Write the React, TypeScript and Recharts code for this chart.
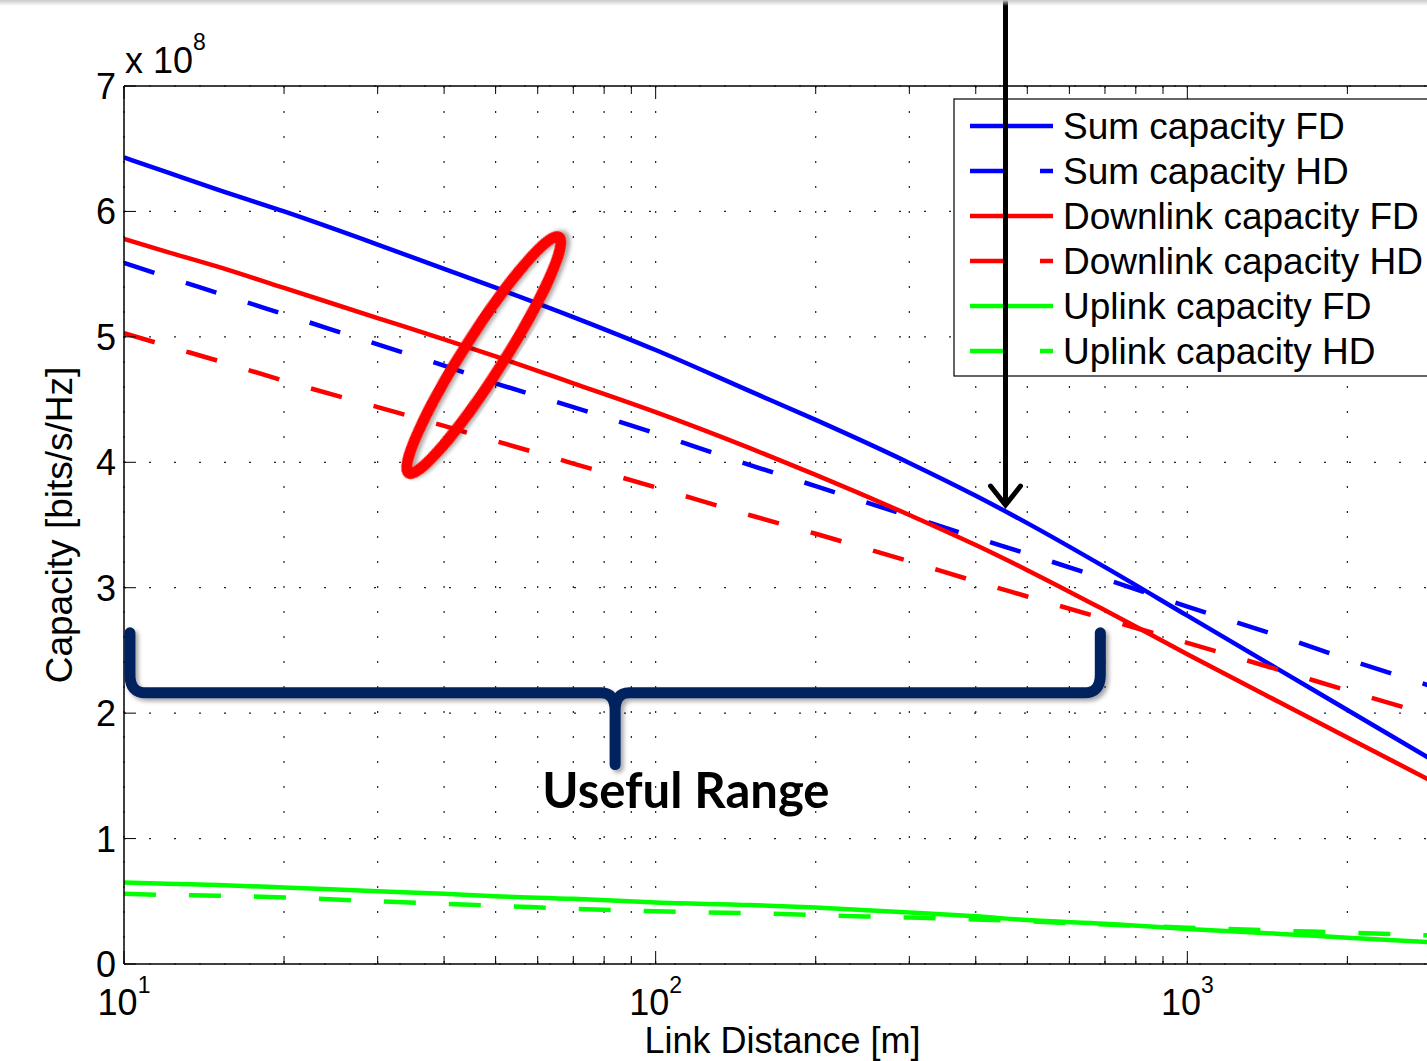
import {
  CartesianGrid,
  Customized,
  Line,
  LineChart,
  ReferenceArea,
  ReferenceDot,
  ReferenceLine,
  XAxis,
  YAxis,
} from "recharts";

const FONT = "'Liberation Sans', Arial, Helvetica, sans-serif";

// link distance [m]
const distances = [10, 12, 15, 20, 30, 40, 50, 70, 100, 150, 200, 300, 400, 500, 700, 1000, 1500, 2000, 3000];

// capacities, in units of 1e8 bits/s/Hz
const sumFD = [6.43, 6.315, 6.174, 6.0, 5.736, 5.542, 5.392, 5.158, 4.895, 4.569, 4.338, 3.995, 3.733, 3.515, 3.164, 2.777, 2.337, 2.025, 1.585];
const sumHD = [5.59, 5.48, 5.35, 5.18, 4.94, 4.77, 4.63, 4.44, 4.23, 3.98, 3.81, 3.57, 3.4, 3.27, 3.07, 2.85, 2.61, 2.43, 2.19];
const downFD = [5.78, 5.68, 5.56, 5.39, 5.15, 4.98, 4.845, 4.63, 4.4, 4.115, 3.9, 3.58, 3.34, 3.14, 2.82, 2.47, 2.08, 1.805, 1.42];
const downHD = [5.03, 4.93, 4.81, 4.65, 4.44, 4.29, 4.17, 3.99, 3.8, 3.58, 3.43, 3.21, 3.05, 2.93, 2.75, 2.56, 2.34, 2.18, 1.96];
const upFD = [0.65, 0.64, 0.63, 0.61, 0.58, 0.56, 0.54, 0.52, 0.49, 0.47, 0.45, 0.41, 0.38, 0.35, 0.32, 0.28, 0.24, 0.21, 0.17];
const upHD = [0.56, 0.55, 0.545, 0.53, 0.5, 0.48, 0.465, 0.44, 0.42, 0.405, 0.39, 0.37, 0.355, 0.34, 0.315, 0.29, 0.265, 0.25, 0.225];

const xTicks = [10, 20, 30, 40, 50, 60, 70, 80, 90, 100, 200, 300, 400, 500, 600, 700, 800, 900, 1000, 2000, 3000];
const yTicks = [0, 1, 2, 3, 4, 5, 6, 7];

const series = [
  { key: "sumFD", name: "Sum capacity FD", color: "#0000ff", dashed: false },
  { key: "sumHD", name: "Sum capacity HD", color: "#0000ff", dashed: true },
  { key: "downFD", name: "Downlink capacity FD", color: "#ff0000", dashed: false },
  { key: "downHD", name: "Downlink capacity HD", color: "#ff0000", dashed: true },
  { key: "upFD", name: "Uplink capacity FD", color: "#00ff00", dashed: false },
  { key: "upHD", name: "Uplink capacity HD", color: "#00ff00", dashed: true },
];

const data = distances.map((d, i) => ({
  d,
  sumFD: sumFD[i],
  sumHD: sumHD[i],
  downFD: downFD[i],
  downHD: downHD[i],
  upFD: upFD[i],
  upHD: upHD[i],
}));

const PLOT_H = 878;
const DASH = "32 33";
const NAVY = "#03205f";

function XTick({ x, y, payload }: any) {
  const exp = Math.log10(payload.value);
  const major = Math.abs(exp - Math.round(exp)) < 1e-6;
  const len = major ? 13 : 8;
  const top = y - PLOT_H;
  return (
    <g>
      <line x1={x} y1={y} x2={x} y2={y - len} stroke="#000" />
      <line x1={x} y1={top} x2={x} y2={top + len} stroke="#000" />
      {major && (
        <text x={x} y={y + 51} textAnchor="middle" fontSize={36} fontFamily={FONT} fill="#000">
          10
          <tspan dy={-22} fontSize={23}>
            {Math.round(exp)}
          </tspan>
        </text>
      )}
    </g>
  );
}

function YTick({ x, y, payload }: any) {
  return (
    <g>
      <line x1={x} y1={y} x2={x + 12} y2={y} stroke="#000" />
      <text x={x - 8} y={y + 13} textAnchor="end" fontSize={36} fontFamily={FONT} fill="#000">
        {payload.value}
      </text>
      {payload.value === 7 && (
        <text x={x + 1} y={y - 13} fontSize={36} fontFamily={FONT} fill="#000">
          x 10
          <tspan dy={-23} fontSize={23}>
            8
          </tspan>
        </text>
      )}
    </g>
  );
}

function YLabel({ viewBox }: any) {
  const x = viewBox.x + 72;
  const y = viewBox.y + viewBox.height / 2;
  return (
    <text x={x} y={y} transform={`rotate(-90 ${x} ${y})`} textAnchor="middle" fontSize={37} fontFamily={FONT} fill="#000">
      Capacity [bits/s/Hz]
    </text>
  );
}

function XLabel({ viewBox }: any) {
  return (
    <text
      x={viewBox.x + viewBox.width / 2}
      y={viewBox.y + 89}
      textAnchor="middle"
      fontSize={36}
      fontFamily={FONT}
      fill="#000"
    >
      Link Distance [m]
    </text>
  );
}

function LegendBox() {
  const left = 954;
  const top = 99;
  return (
    <g>
      <rect x={left} y={top} width={520} height={277} fill="#fff" stroke="#000" strokeWidth={1.2} />
      {series.map((s, i) => {
        const cy = top + 27 + i * 45;
        return (
          <g key={s.key}>
            <line
              x1={left + 16}
              x2={left + 99}
              y1={cy}
              y2={cy}
              stroke={s.color}
              strokeWidth={4.5}
              strokeDasharray={s.dashed ? "33 37" : undefined}
            />
            <text x={left + 109} y={cy + 13} fontSize={37} fontFamily={FONT} fill="#000">
              {s.name}
            </text>
          </g>
        );
      })}
    </g>
  );
}

function Shadow({ id }: { id: string }) {
  return (
    <defs>
      <filter id={id} x="-20%" y="-20%" width="140%" height="140%">
        <feDropShadow dx={3} dy={3} stdDeviation={2} floodColor="#000" floodOpacity={0.35} />
      </filter>
    </defs>
  );
}

function EllipseMark({ cx, cy }: any) {
  return (
    <g>
      <Shadow id="ellShadow" />
      <ellipse
        cx={cx}
        cy={cy}
        rx={140}
        ry={20}
        transform={`rotate(-57.5 ${cx} ${cy})`}
        fill="none"
        stroke="#ff0000"
        strokeWidth={11}
        filter="url(#ellShadow)"
      />
    </g>
  );
}

function ArrowMark({ cx, cy }: any) {
  return (
    <g>
      <line x1={cx} y1={0} x2={cx} y2={cy - 3} stroke="#000" strokeWidth={5} />
      <path
        d={`M${cx - 15},${cy - 21} L${cx},${cy - 2} L${cx + 15},${cy - 21}`}
        fill="none"
        stroke="#000"
        strokeWidth={5}
        strokeLinecap="round"
      />
    </g>
  );
}

function BraceMark({ x, y, width, height }: any) {
  const l = x;
  const r = x + width;
  const m = x + width / 2;
  const bar = y + height * 0.455;
  const b = y + height;
  const d = [
    `M${l},${y} L${l},${bar - 18} Q${l},${bar} ${l + 16},${bar}`,
    `L${m - 14},${bar} Q${m},${bar} ${m},${bar + 18} L${m},${b}`,
    `M${m},${bar + 18} Q${m},${bar} ${m + 14},${bar}`,
    `L${r - 16},${bar} Q${r},${bar} ${r},${bar - 18} L${r},${y}`,
  ].join(" ");
  return (
    <g>
      <Shadow id="braceShadow" />
      <path
        d={d}
        fill="none"
        stroke={NAVY}
        strokeWidth={11}
        strokeLinecap="round"
        strokeLinejoin="round"
        filter="url(#braceShadow)"
      />
    </g>
  );
}

function RangeText({ cx, cy }: any) {
  return (
    <text x={cx} y={cy} textAnchor="middle" fontSize={49} fontWeight={700} fontFamily="Lato, 'Open Sans', sans-serif" fill="#000">
      Useful Range
    </text>
  );
}

function CapacityChart() {
  return (
    <LineChart width={1470} height={1061} data={data} margin={{ top: 86, right: 29, bottom: 0, left: 0 }}>
      <CartesianGrid stroke="#222" strokeWidth={1.2} strokeDasharray="2 23" />
      <XAxis
        dataKey="d"
        type="number"
        scale="log"
        domain={[10, 3000]}
        allowDataOverflow
        ticks={xTicks}
        interval={0}
        height={97}
        tickSize={0}
        tickMargin={0}
        tickLine={false}
        tick={<XTick />}
        axisLine={{ stroke: "#000", strokeWidth: 1.5 }}
        label={<XLabel />}
      />
      <YAxis
        type="number"
        domain={[0, 7]}
        ticks={yTicks}
        interval={0}
        width={124}
        tickSize={0}
        tickMargin={0}
        tickLine={false}
        tick={<YTick />}
        axisLine={{ stroke: "#000", strokeWidth: 1.5 }}
        label={<YLabel />}
      />
      <ReferenceLine y={7} stroke="#000" strokeWidth={1.5} />
      {series.map((s) => (
        <Line
          key={s.key}
          dataKey={s.key}
          name={s.name}
          type="monotone"
          stroke={s.color}
          strokeWidth={4.5}
          strokeDasharray={s.dashed ? DASH : undefined}
          dot={false}
          activeDot={false}
          isAnimationActive={false}
        />
      ))}
      <Customized component={LegendBox} />
      <ReferenceArea x1={10.26} x2={686} y1={1.59} y2={2.64} shape={<BraceMark />} zIndex={650} />
      <ReferenceDot x={114} y={1.244} shape={<RangeText />} zIndex={650} />
      <ReferenceDot x={47.5} y={4.855} shape={<EllipseMark />} zIndex={650} />
      <ReferenceDot x={455} y={3.643} shape={<ArrowMark />} zIndex={700} />
    </LineChart>
  );
}

export default function App() {
  return (
    <div
      style={{
        position: "absolute",
        left: 0,
        top: 0,
        width: 1427,
        height: 1061,
        overflow: "hidden",
        background: "#fff",
      }}
    >
      <CapacityChart />
      <div
        style={{
          position: "absolute",
          left: 0,
          top: 0,
          width: 1427,
          height: 6,
          background: "linear-gradient(#c9c9c9, rgba(255,255,255,0))",
        }}
      />
    </div>
  );
}
